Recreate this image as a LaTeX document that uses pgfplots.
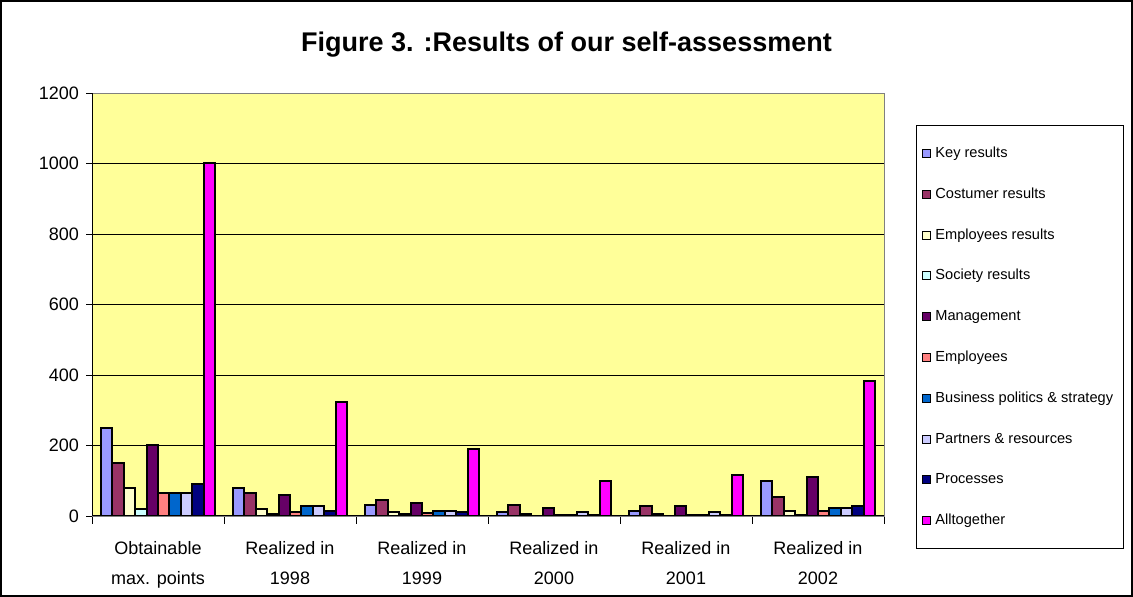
\documentclass[border=0pt]{standalone}
\usepackage{pgfplots}
\pgfplotsset{compat=1.18}
\usepackage{pgfplotstable}
\usepackage{fontspec}
\setmainfont{Liberation Sans}
\definecolor{c1}{HTML}{9999FF}
\definecolor{c2}{HTML}{993366}
\definecolor{c3}{HTML}{FFFFCC}
\definecolor{c4}{HTML}{CCFFFF}
\definecolor{c5}{HTML}{660066}
\definecolor{c6}{HTML}{FF8080}
\definecolor{c7}{HTML}{0066CC}
\definecolor{c8}{HTML}{CCCCFF}
\definecolor{c9}{HTML}{000080}
\definecolor{c10}{HTML}{FF00FF}
\definecolor{bg}{HTML}{FFFF99}
\pgfplotstableread{
x key cost empr soc mgmt emp bus part proc all
0 250 150 80 20 200 65 65 65 90 1000
1 80 65 20 5 60 12 27 27 14 322
2 32 44 10 5 38 8 15 15 10 190
3 10 32 5 0 22 3 3 10 3 100
4 15 27 5 0 27 3 3 10 3 117
5 100 55 15 3 112 14 22 22 27 383
}\data
\begin{document}
\begin{tikzpicture}
\begin{axis}[
 at={(46pt,40.5pt)}, anchor=south west,
 scale only axis, width=396pt, height=211.5pt,
 ybar=0pt, bar width=0.087,
 xmin=-0.5, xmax=5.5, ymin=0, ymax=1200,
 xtick={0,...,5},
 xticklabels={{Obtainable\\max. points},{Realized in\\1998},{Realized in\\1999},{Realized in\\2000},{Realized in\\2001},{Realized in\\2002}},
 xticklabel style={align=center, font=\fontsize{9}{15}\selectfont, yshift=-6pt},
 major x tick style={draw=none},
 minor xtick={-0.5,0.5,...,5.5},
 minor tick length=4pt,
 minor x tick style={black},
 xtick pos=left, ytick pos=left,
 ytick={0,200,...,1200},
 yticklabel style={font=\fontsize{9}{11}\selectfont, /pgf/number format/1000 sep={}},
 /pgf/number format/assume math mode=true,
 ymajorgrids, grid style={black, line width=0.4pt},
 axis background/.style={fill=bg},
 axis line style={draw=gray},
 tick align=outside,
 major tick length=3pt,
 y tick style={black},
 legend cell align=left,
 legend style={at={(1.0404,0.9243)}, anchor=north west, draw=black, fill=white,
   font=\fontsize{7.3}{9}\selectfont, row sep=12.4pt, inner ysep=10pt, inner xsep=3pt,
   nodes={text height=6pt, text depth=2pt, inner ysep=0pt}},
 legend image code/.code={\draw[#1,draw=black,line width=0.5pt] (0pt,-2pt) rectangle (4pt,2pt);},
]
\addplot[fill=c1, draw=black, line width=1pt] table[x=x,y=key]{\data};
\addplot[fill=c2, draw=black, line width=1pt] table[x=x,y=cost]{\data};
\addplot[fill=c3, draw=black, line width=1pt] table[x=x,y=empr]{\data};
\addplot[fill=c4, draw=black, line width=1pt] table[x=x,y=soc]{\data};
\addplot[fill=c5, draw=black, line width=1pt] table[x=x,y=mgmt]{\data};
\addplot[fill=c6, draw=black, line width=1pt] table[x=x,y=emp]{\data};
\addplot[fill=c7, draw=black, line width=1pt] table[x=x,y=bus]{\data};
\addplot[fill=c8, draw=black, line width=1pt] table[x=x,y=part]{\data};
\addplot[fill=c9, draw=black, line width=1pt] table[x=x,y=proc]{\data};
\addplot[fill=c10, draw=black, line width=1pt] table[x=x,y=all]{\data};
\legend{Key results, Costumer results, Employees results, Society results, Management, Employees, {Business politics \& strategy}, {Partners \& resources}, Processes, Alltogether}
\draw[black, line width=0.6pt] (rel axis cs:0,0) -- (rel axis cs:1,0);
\draw[black, line width=0.6pt] (rel axis cs:0,0) -- (rel axis cs:0,1);
\end{axis}
\node at (283.25pt,276pt) {\fontsize{13.5}{16}\selectfont\bfseries Figure 3. :Results of our self-assessment};
\draw[line width=0.8pt] (0.4pt,0.4pt) rectangle (566.1pt,298.1pt);
\pgfresetboundingbox
\useasboundingbox (0,0) rectangle (566.5pt,298.5pt);
\end{tikzpicture}
\end{document}
